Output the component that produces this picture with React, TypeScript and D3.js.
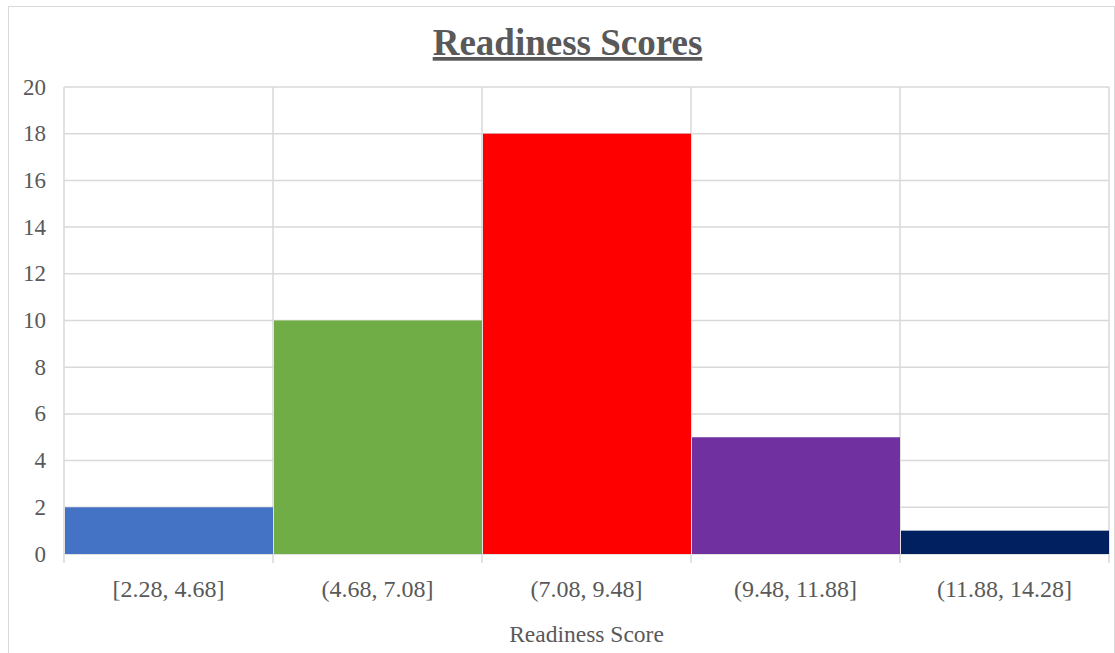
import React from 'react';
import * as d3 from 'd3';

const categories = ['[2.28, 4.68]', '(4.68, 7.08]', '(7.08, 9.48]', '(9.48, 11.88]', '(11.88, 14.28]'];
const counts = [2, 10, 18, 5, 1];
const barColors = ['#4472C4', '#70AD47', '#FF0000', '#7030A0', '#002060'];
const yTicks = [0, 2, 4, 6, 8, 10, 12, 14, 16, 18, 20];

const W = 1115;
const H = 653;

const left = 64, right = 1109, top = 87, bottom = 554;
const textColor = '#595959';
const gridColor = '#d9d9d9';
const serif = { fontFamily: "'Liberation Serif'" };

const x = d3.scaleBand<string>().domain(categories).range([left, right]).padding(0);
const y = d3.scaleLinear().domain([0, 20]).range([bottom, top]);
const edges = categories.map((c) => x(c)!).concat([right]);

const App: React.FC = () => (
  <svg width={W} height={H} style={{ position: 'absolute', left: 0, top: 0, background: '#fff' }}>
    {/* outer chart border */}
    <rect x={8.5} y={6.5} width={1106} height={660} fill="#fff" stroke={gridColor} />

    {/* gridlines */}
    {yTicks.map((t) => (
      <line key={'h' + t} x1={left} x2={right} y1={y(t)} y2={y(t)} stroke={gridColor} strokeWidth={1.5} />
    ))}
    {edges.map((e, i) => (
      <line key={'v' + i} x1={e} x2={e} y1={top} y2={bottom + 9} stroke={gridColor} strokeWidth={1.5} />
    ))}

    {/* bars */}
    {counts.map((c, i) => (
      <rect
        key={categories[i]}
        x={x(categories[i])! + 1}
        y={y(c)}
        width={x.bandwidth() - 1}
        height={y(0) - y(c)}
        fill={barColors[i]}
      />
    ))}

    {/* y tick labels */}
    {yTicks.map((t) => (
      <text key={'yl' + t} x={46} y={y(t)} dy="0.33em" textAnchor="end" fill={textColor}
        style={{ ...serif, fontSize: 23 }}>
        {t}
      </text>
    ))}

    {/* x tick labels */}
    {categories.map((c) => (
      <text key={'xl' + c} x={x(c)! + x.bandwidth() / 2} y={597} textAnchor="middle" fill={textColor}
        style={{ ...serif, fontSize: 24 }}>
        {c}
      </text>
    ))}

    {/* axis title */}
    <text x={(left + right) / 2} y={642} textAnchor="middle" fill={textColor} style={{ ...serif, fontSize: 23.5 }}>
      Readiness Score
    </text>

    {/* chart title */}
    <text x={567.5} y={55} textAnchor="middle" fill={textColor}
      style={{ ...serif, fontSize: 37, fontWeight: 'bold', textDecoration: 'underline' }}>
      Readiness Scores
    </text>
  </svg>
);

export default App;
